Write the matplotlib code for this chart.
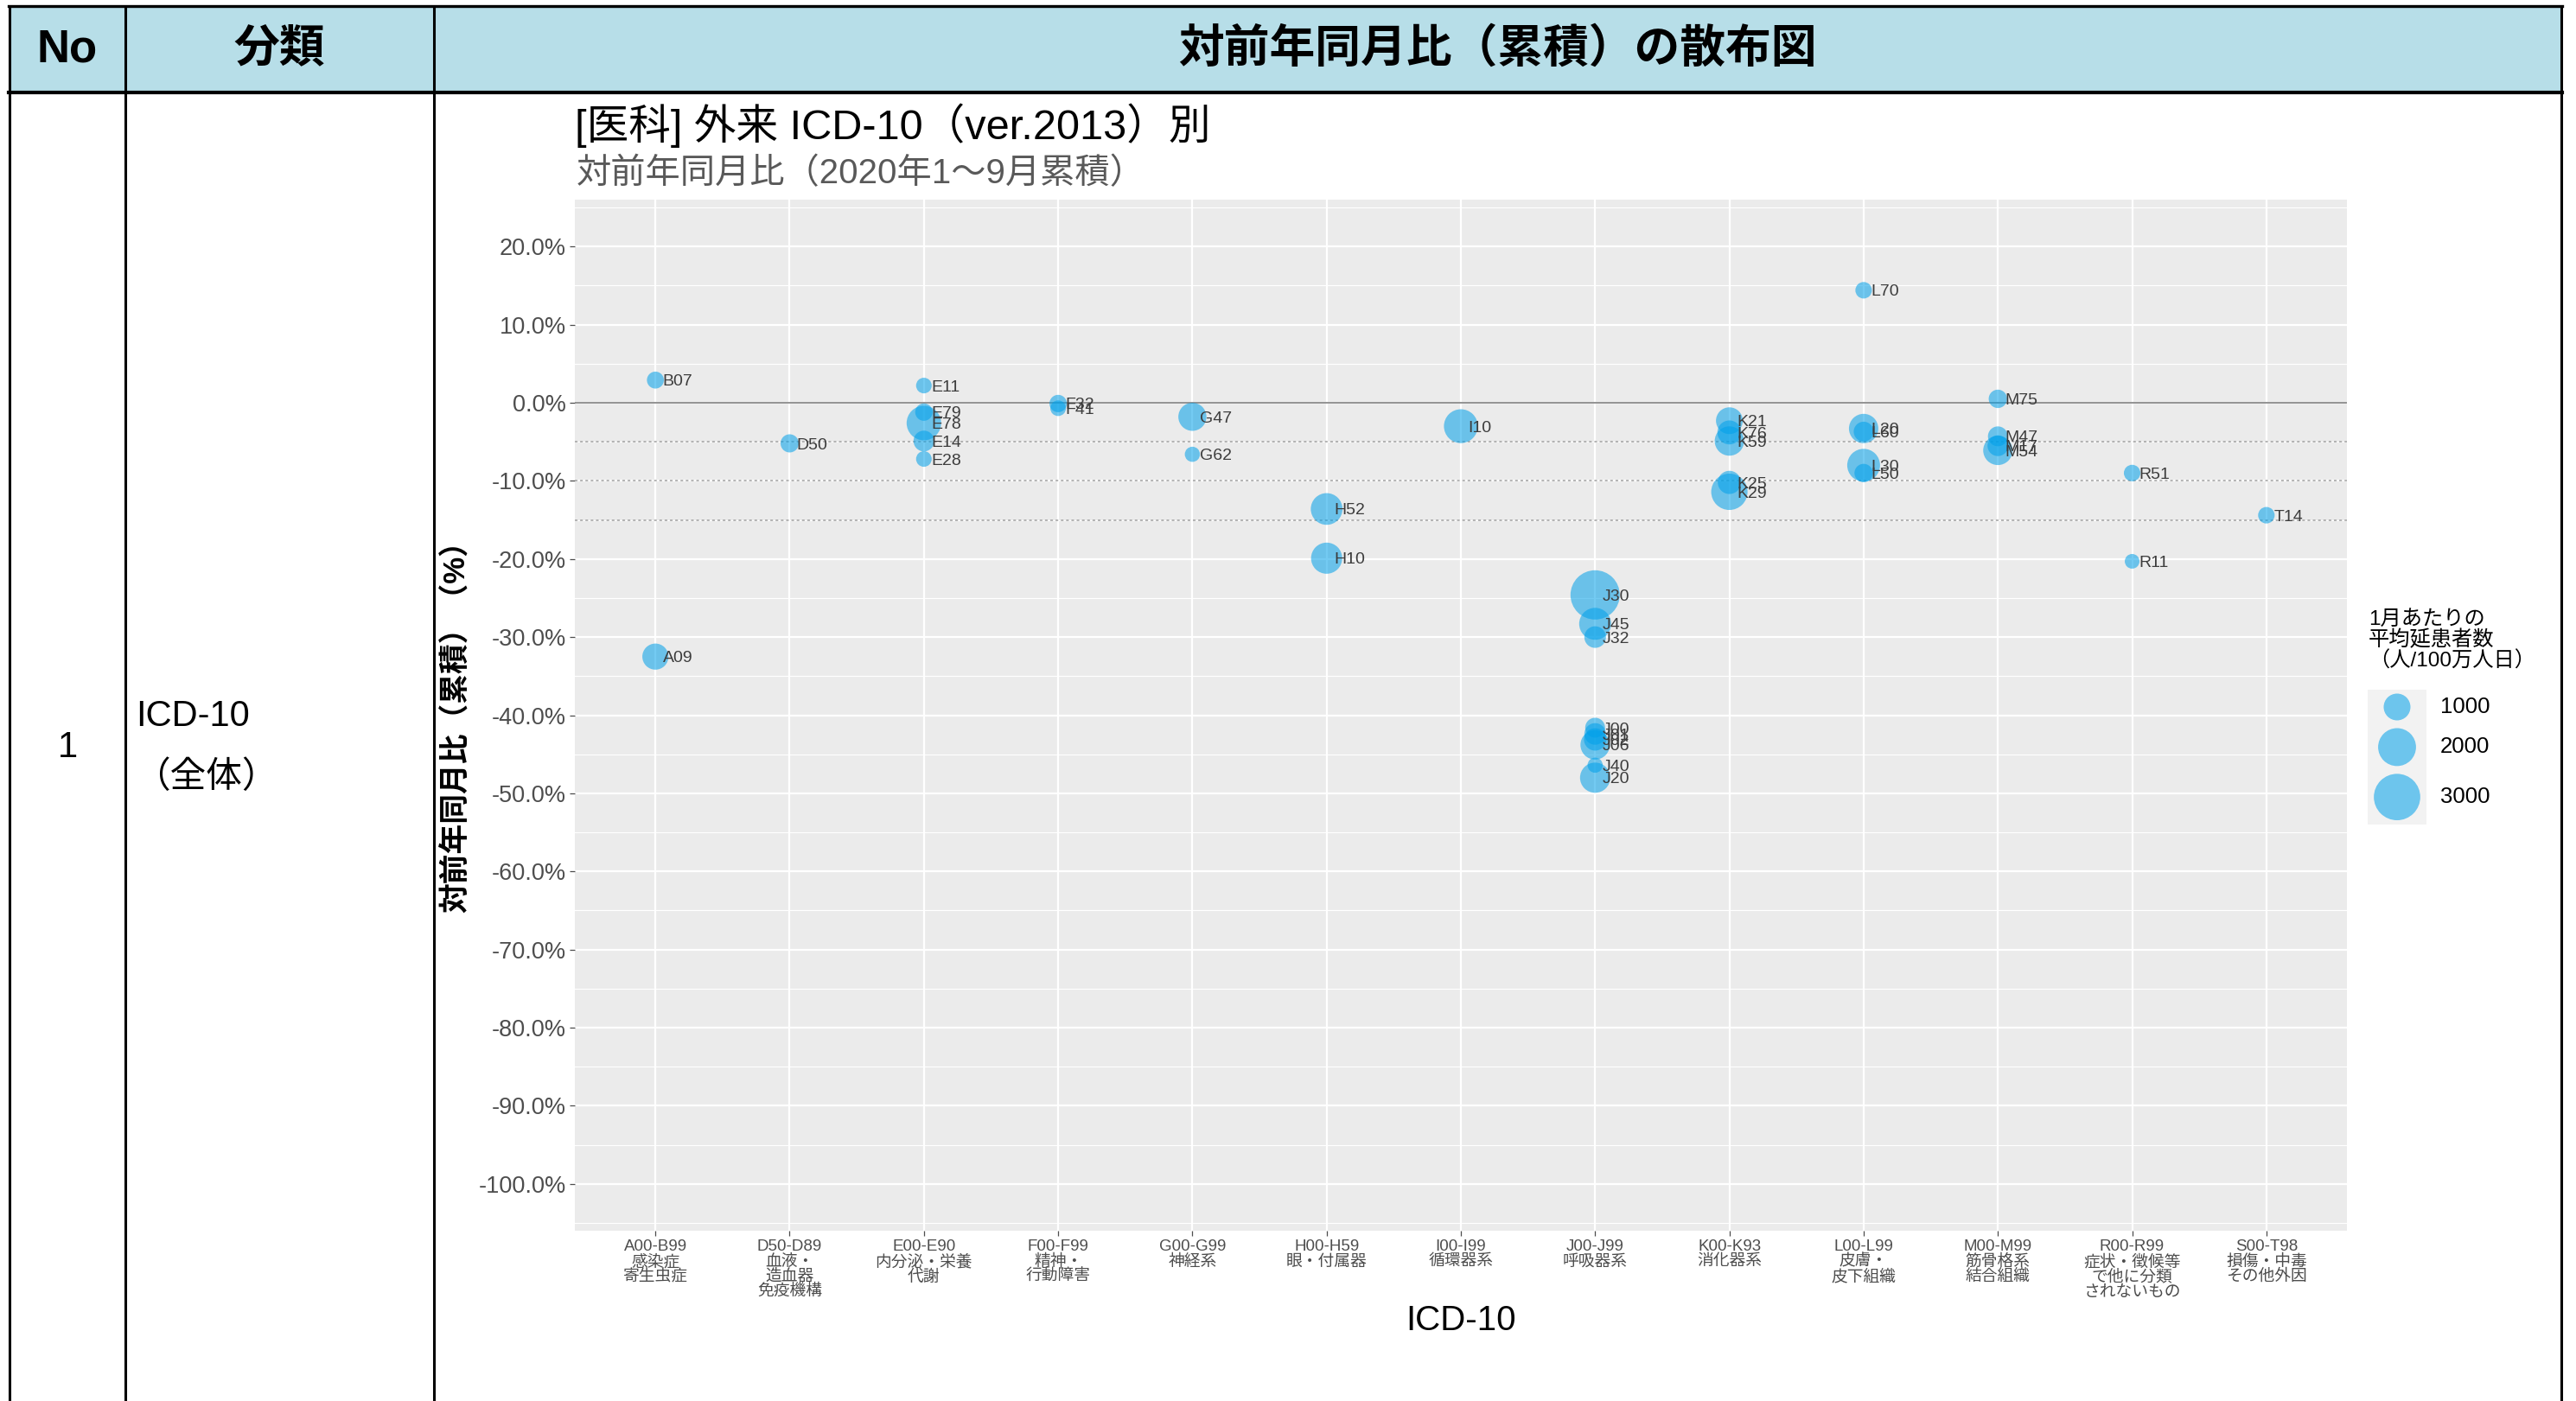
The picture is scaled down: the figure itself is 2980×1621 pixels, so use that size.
import numpy as np
import matplotlib
matplotlib.use("Agg")
import matplotlib.pyplot as plt
from matplotlib.patches import Rectangle

plt.rcParams['font.family'] = ['Liberation Sans', 'Noto Sans CJK JP']

# ICD-10 大分類
cat_codes = ["A00-B99", "D50-D89", "E00-E90", "F00-F99", "G00-G99", "H00-H59", "I00-I99",
             "J00-J99", "K00-K93", "L00-L99", "M00-M99", "R00-R99", "S00-T98"]
cat_names = ["感染症\n寄生虫症", "血液・\n造血器\n免疫機構", "内分泌・栄養\n代謝", "精神・\n行動障害",
             "神経系", "眼・付属器", "循環器系", "呼吸器系", "消化器系", "皮膚・\n皮下組織",
             "筋骨格系\n結合組織", "症状・徴候等\nで他に分類\nされないもの", "損傷・中毒\nその他外因"]

# 各傷病 (ラベル, 分類番号, 対前年同月比%, 1月あたり平均延患者数)
pt_labels = ["A09", "B07", "D50", "E11", "E79", "E78", "E14", "E28", "F32", "F41",
             "G47", "G62", "H52", "H10", "I10",
             "J30", "J45", "J32", "J00", "J01", "J02", "J06", "J40", "J20",
             "K21", "K76", "K59", "K25", "K29",
             "L70", "L20", "L60", "L30", "L50",
             "M75", "M47", "M17", "M54", "R51", "R11", "T14"]
pt_cat = [1, 1, 2, 3, 3, 3, 3, 3, 4, 4,
          5, 5, 6, 6, 7,
          8, 8, 8, 8, 8, 8, 8, 8, 8,
          9, 9, 9, 9, 9,
          10, 10, 10, 10, 10,
          11, 11, 11, 11, 12, 12, 13]
pt_yoy = [-32.5, 2.9, -5.2, 2.2, -1.2, -2.6, -4.9, -7.2, -0.1, -0.7,
          -1.8, -6.6, -13.6, -19.9, -3.0,
          -24.6, -28.3, -30.0, -41.6, -42.4, -43.1, -43.8, -46.4, -48.0,
          -2.3, -3.8, -4.9, -10.2, -11.4,
          14.4, -3.3, -3.7, -8.0, -9.0,
          0.5, -4.3, -5.5, -6.1, -9.0, -20.3, -14.4]
pt_patients = [950, 400, 460, 340, 420, 1660, 600, 340, 420, 340,
               1100, 320, 1400, 1350, 1600,
               3380, 1420, 650, 550, 650, 700, 1200, 320, 1270,
               1000, 800, 1200, 750, 1840,
               380, 1200, 550, 1500, 470,
               470, 550, 600, 1200, 380, 300, 380]

y_ticks = list(range(-100, 21, 10))
ref_lines = [-5, -10, -15]
legend_vals = [1000, 2000, 3000]

W, H, DPI = 2980, 1621, 100
POINT_COLOR = '#00A0E9'


def marker_area(v):
    # 面積比例 (1000人で直径31px)
    d_px = 31.0 * np.sqrt(np.asarray(v, dtype=float) / 1000.0)
    return (d_px * 72.0 / DPI) ** 2


fig = plt.figure(figsize=(W / DPI, H / DPI), dpi=DPI)
fig.patch.set_facecolor('white')

# 表の枠 (ピクセル座標)
bg = fig.add_axes([0, 0, 1, 1])
bg.set_xlim(0, W)
bg.set_ylim(H, 0)
bg.axis('off')
bg.add_patch(Rectangle((11, 7), 2952, 100, facecolor='#B7DEE8', edgecolor='none'))
for x in [11, 145, 502, 2963]:
    bg.plot([x, x], [6, H], color='black', lw=2.2, solid_capstyle='butt')
bg.plot([10, 2964], [7, 7], color='black', lw=2.4)
bg.plot([10, 2964], [107, 107], color='black', lw=3.0)

bg.text(78, 57, "No", ha='center', va='center', fontsize=38, fontweight='bold')
bg.text(323, 57, "分類", ha='center', va='center', fontsize=38, fontweight='bold')
bg.text(1732, 57, "対前年同月比（累積）の散布図", ha='center', va='center',
        fontsize=38, fontweight='bold')
bg.text(78, 865, "1", ha='center', va='center', fontsize=30)
bg.text(157, 829, "ICD-10", ha='left', va='center', fontsize=30)
bg.text(238, 900, "（全体）", ha='center', va='center', fontsize=30)

# グラフタイトル
bg.text(665, 145, "[医科] 外来 ICD-10（ver.2013）別", ha='left', va='center', fontsize=35)
bg.text(667, 201, "対前年同月比（2020年1〜9月累積）", ha='left', va='center',
        fontsize=29, color='#595959')

# 散布図
ax = fig.add_axes([665 / W, 1 - 1424 / H, 2050 / W, 1193 / H])
ax.set_facecolor('#EBEBEB')
for s in ax.spines.values():
    s.set_visible(False)
ax.set_xlim(0.4, 13.6)
ax.set_ylim(-106, 26)

ax.set_yticks(y_ticks)
ax.set_yticks([v + 5 for v in range(-110, 21, 10)], minor=True)
ax.set_yticklabels([f"{v:.1f}%" for v in y_ticks], fontsize=19.5, color='#4D4D4D')
ax.set_xticks(range(1, len(cat_codes) + 1))
xt = ax.set_xticklabels([f"{c}\n{n}" for c, n in zip(cat_codes, cat_names)],
                        fontsize=13.5, color='#4D4D4D')
for t in xt:
    t.set_linespacing(1.0)
ax.tick_params(which='major', length=4.5, width=0.9, color='#4D4D4D', pad=3)
ax.tick_params(which='minor', length=0)
ax.grid(which='major', color='white', lw=1.6)
ax.grid(which='minor', axis='y', color='white', lw=0.8)
ax.set_axisbelow(True)

ax.axhline(0, color='#808080', lw=1.2, zorder=2)
for r in ref_lines:
    ax.axhline(r, color='#A0A0A0', lw=1.1, ls=(0, (2, 2)), zorder=2)

ax.scatter(pt_cat, pt_yoy, s=marker_area(pt_patients), color=POINT_COLOR, alpha=0.55,
           edgecolors='none', zorder=3)
for lbl, x, y in zip(pt_labels, pt_cat, pt_yoy):
    ax.annotate(lbl, (x, y), xytext=(6, -1.5), textcoords='offset points',
                fontsize=14, color='#3C3C3C', ha='left', va='center', zorder=4)

fig.text(528 / W, 1 - 832 / H, "対前年同月比（累積）（%）", rotation=90,
         ha='center', va='center', fontsize=25, fontweight='bold')
fig.text(1690 / W, 1 - 1528 / H, "ICD-10", ha='center', va='center', fontsize=29)

# 凡例
bg.text(2740, 706, "1月あたりの\n平均延患者数\n（人/100万人日）", ha='left', va='top',
        fontsize=17.5, linespacing=1.05)
diam = 31.0 * np.sqrt(np.array(legend_vals) / 1000.0)
key_h = diam + 9
key_top = 798
bg.add_patch(Rectangle((2739, key_top), 68, key_h.sum(), facecolor='#F2F2F2', edgecolor='none'))
centers = key_top + np.cumsum(key_h) - key_h / 2
bg.scatter([2773] * len(legend_vals), centers, s=marker_area(legend_vals), color=POINT_COLOR,
           alpha=0.55, edgecolors='none')
for v, cy in zip(legend_vals, centers):
    bg.text(2823, cy, str(v), ha='left', va='center', fontsize=18.5)

fig.savefig('out.png', dpi=DPI)
